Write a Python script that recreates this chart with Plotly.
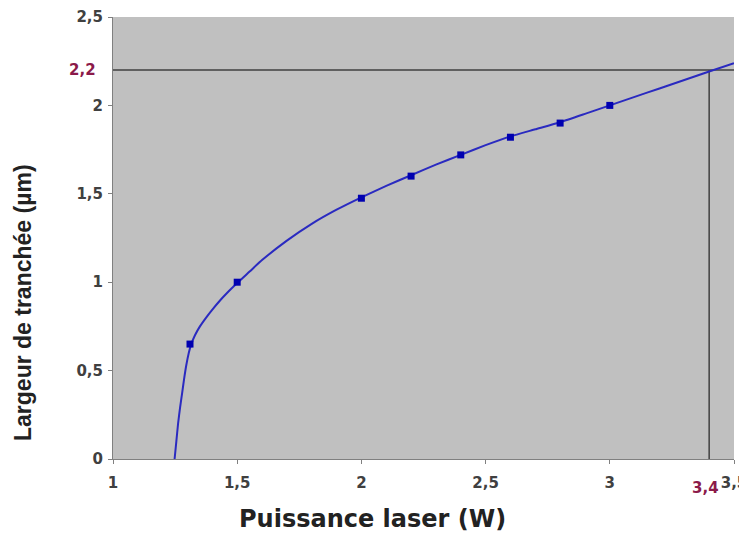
import plotly.graph_objects as go

# ---- data ----
power_w = [1.31, 1.5, 2.0, 2.2, 2.4, 2.6, 2.8, 3.0]
width_um = [0.65, 1.0, 1.475, 1.60, 1.72, 1.82, 1.90, 2.0]

curve_x = [1.248, 1.255, 1.262, 1.27, 1.278, 1.286, 1.295, 1.305, 1.315, 1.33, 1.35,
           1.375, 1.40, 1.43, 1.46, 1.50, 1.55, 1.60, 1.70, 1.80, 1.90, 2.00, 2.10,
           2.20, 2.30, 2.40, 2.50, 2.60, 2.70, 2.80, 2.90, 3.00, 3.10, 3.20, 3.30,
           3.40, 3.50]
curve_y = [0.0, 0.10, 0.20, 0.29, 0.37, 0.45, 0.53, 0.60, 0.65, 0.70, 0.75,
           0.80, 0.845, 0.895, 0.94, 0.995, 1.06, 1.125, 1.235, 1.33, 1.41, 1.48, 1.545,
           1.605, 1.665, 1.72, 1.775, 1.825, 1.865, 1.905, 1.952, 2.0, 2.048, 2.096, 2.144,
           2.192, 2.238]

ref_x = 3.4
ref_y = 2.2
ref_x_label = "3,4"
ref_y_label = "2,2"

x_ticks = [1, 1.5, 2, 2.5, 3, 3.5]
x_ticktext = ["1", "1,5", "2", "2,5", "3", "3,5"]
y_ticks = [0, 0.5, 1, 1.5, 2, 2.5]
y_ticktext = ["0", "0,5", "1", "1,5", "2", "2,5"]

x_range = [1, 3.5]
y_range = [0, 2.5]

x_title = "Puissance laser (W)"
y_title = "Largeur de tranchée (µm)"

# ---- layout geometry (screen pixels; page body adds an 8px offset) ----
OFF = 8
FIG_W, FIG_H = 747 - OFF, 535 - OFF
L, R, T, B = 113, 734, 17, 459
W, H = R - L, B - T


def px(sx):
    return (sx - L) / W


def py(sy):
    return (B - sy) / H


# ---- figure ----
fig = go.Figure()

# reference lines
fig.add_trace(go.Scatter(x=[x_range[0], x_range[1]], y=[ref_y, ref_y], mode="lines",
                         line=dict(color="#404040", width=1.5), hoverinfo="skip",
                         showlegend=False))
fig.add_trace(go.Scatter(x=[ref_x, ref_x], y=[y_range[0], ref_y], mode="lines",
                         line=dict(color="#404040", width=1.5), hoverinfo="skip",
                         showlegend=False))

# fitted curve
fig.add_trace(go.Scatter(x=curve_x, y=curve_y, mode="lines",
                         line=dict(color="#2a2ac0", width=2, shape="spline", smoothing=0.5),
                         showlegend=False))

# measured points
fig.add_trace(go.Scatter(x=power_w, y=width_um, mode="markers",
                         marker=dict(symbol="square", size=7, color="#0000b0"),
                         showlegend=False))

tick_font = dict(family="DejaVu Sans", size=15, color="#404040", weight="bold")

fig.update_layout(
    width=FIG_W, height=FIG_H, autosize=False,
    margin=dict(l=L - OFF, r=FIG_W - (R - OFF), t=T - OFF, b=FIG_H - (B - OFF)),
    paper_bgcolor="white", plot_bgcolor="#c0c0c0",
    showlegend=False,
    xaxis=dict(range=x_range, tickvals=x_ticks, ticktext=x_ticktext, automargin=False,
               showgrid=False, zeroline=False, showline=True, linecolor="#808080",
               linewidth=1, ticks="outside", ticklen=4, tickcolor="#808080",
               tickfont=tick_font, ticklabelstandoff=6, ticklabeloverflow="allow"),
    yaxis=dict(range=y_range, tickvals=y_ticks, ticktext=y_ticktext, automargin=False,
               showgrid=False, zeroline=False, showline=True, linecolor="#808080",
               linewidth=1, ticks="outside", ticklen=4, tickcolor="#808080",
               tickfont=tick_font, ticklabelstandoff=2, ticklabeloverflow="allow"),
)

# axis titles
fig.add_annotation(text=x_title, xref="paper", yref="paper", x=px(372), y=py(519),
                   xanchor="center", yanchor="middle", showarrow=False,
                   font=dict(family="DejaVu Sans", size=24, color="#222222", weight="bold"))
fig.add_annotation(text=y_title, xref="paper", yref="paper", x=px(23), y=py(303),
                   xanchor="center", yanchor="middle", textangle=-90, showarrow=False,
                   font=dict(family="Liberation Sans", size=23, color="#222222", weight="bold"))

# red reference labels
red_font = dict(family="DejaVu Sans", size=15, color="#8b1a4a", weight="bold")
fig.add_annotation(text=ref_y_label, xref="paper", yref="y", x=px(82), y=ref_y,
                   xanchor="center", yanchor="middle", showarrow=False, font=red_font)
fig.add_annotation(text=ref_x_label, xref="x", yref="paper", x=ref_x, y=py(488),
                   xanchor="center", yanchor="middle", showarrow=False, font=red_font,
                   xshift=-4)

fig.write_html("out.html")
